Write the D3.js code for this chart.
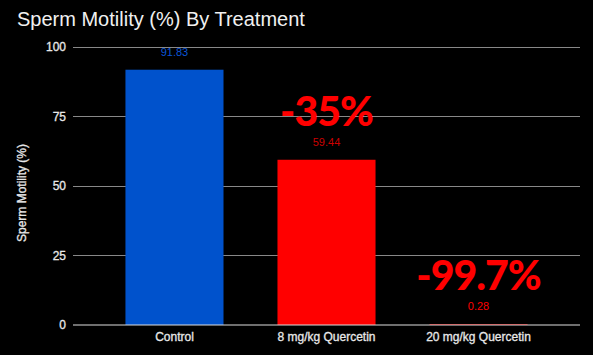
<!DOCTYPE html>
<html><head><meta charset="utf-8">
<script src="https://cdn.jsdelivr.net/npm/d3@7"></script>
<style>body{margin:0;background:#000;}svg{display:block;}</style>
</head><body>
<svg id="c" width="593" height="355"></svg>
<script>
const categories = ["Control", "8 mg/kg Quercetin", "20 mg/kg Quercetin"];
const values = [91.83, 59.44, 0.28];
const barColors = ["#0052cc", "#ff0000", "#ff0000"];
const labelColors = ["#0a55d8", "#cc0000", "#ff0000"];
const changeLabels = [null, "-35%", "-99.7%"];
const yTicks = [0, 25, 50, 75, 100];

const svg = d3.select("#c");
const W = 593, H = 355;
svg.append("rect").attr("width", W).attr("height", H).attr("fill", "#000");

const m = {left: 73, right: 13, top: 47, bottom: 30};
const x = d3.scaleBand().domain(categories).range([m.left, W - m.right]).paddingInner(0.355).paddingOuter(0.345);
const y = d3.scaleLinear().domain([0, 100]).range([325, 47]);
const font = "Liberation Sans, Arial, sans-serif";

// grid
svg.append("g").selectAll("line").data(yTicks.filter(d => d > 0)).join("line")
  .attr("x1", m.left).attr("x2", W - m.right)
  .attr("y1", d => y(d)).attr("y2", d => y(d))
  .attr("stroke", "#888").attr("stroke-width", 1).attr("shape-rendering", "crispEdges");

// y axis labels
const yAxis = d3.axisLeft(y).tickValues(yTicks).tickSize(0).tickPadding(7);
const gy = svg.append("g").attr("transform", `translate(${m.left},0)`).call(yAxis);
gy.select(".domain").remove();
gy.selectAll("text").attr("fill", "#e8e8e8").attr("font-family", font).attr("font-size", 12)
  .attr("stroke", "#e8e8e8").attr("stroke-width", 0.3);

// bars
svg.append("g").selectAll("rect").data(values).join("rect")
  .attr("x", (d, i) => x(categories[i])).attr("width", x.bandwidth())
  .attr("y", d => y(d)).attr("height", d => y(0) - y(d))
  .attr("fill", (d, i) => barColors[i]);

// baseline
svg.append("line").attr("x1", m.left).attr("x2", W - m.right)
  .attr("y1", y(0)).attr("y2", y(0)).attr("stroke", "#ddd").attr("stroke-width", 1.2);

// x axis labels
const xAxis = d3.axisBottom(x).tickSize(0).tickPadding(7);
const gx = svg.append("g").attr("transform", `translate(0,${y(0)})`).call(xAxis);
gx.select(".domain").remove();
gx.selectAll("text").attr("fill", "#e8e8e8").attr("font-family", font).attr("font-size", 12)
  .attr("stroke", "#e8e8e8").attr("stroke-width", 0.3);

// value labels
svg.append("g").selectAll("text").data(values).join("text")
  .attr("x", (d, i) => x(categories[i]) + x.bandwidth() / 2)
  .attr("y", d => y(d) - 14)
  .attr("text-anchor", "middle")
  .attr("fill", (d, i) => labelColors[i])
  .attr("font-family", font).attr("font-size", 11)
  .text(d => d.toFixed(2));

// change labels
const changeData = values.map((v, i) => ({v, i, label: changeLabels[i]})).filter(d => d.label !== null);
svg.append("g").selectAll("text").data(changeData).join("text")
  .attr("x", d => x(categories[d.i]) + x.bandwidth() / 2)
  .attr("y", d => y(d.v) - 34)
  .attr("text-anchor", "middle")
  .attr("fill", "#ff0000")
  .attr("font-family", "Lato, sans-serif").attr("font-weight", 900).attr("font-size", 41)
  .attr("letter-spacing", -1)
  .text(d => d.label);

// y title
svg.append("text")
  .attr("transform", `translate(26,193) rotate(-90)`)
  .attr("text-anchor", "middle")
  .attr("fill", "#e8e8e8").attr("font-family", font).attr("font-size", 12)
  .attr("stroke", "#e8e8e8").attr("stroke-width", 0.3)
  .text("Sperm Motility (%)");

// title
svg.append("text").attr("x", 17).attr("y", 26)
  .attr("fill", "#f0f0f0").attr("font-family", font).attr("font-size", 20)
  .text("Sperm Motility (%) By Treatment");
</script>
</body></html>
